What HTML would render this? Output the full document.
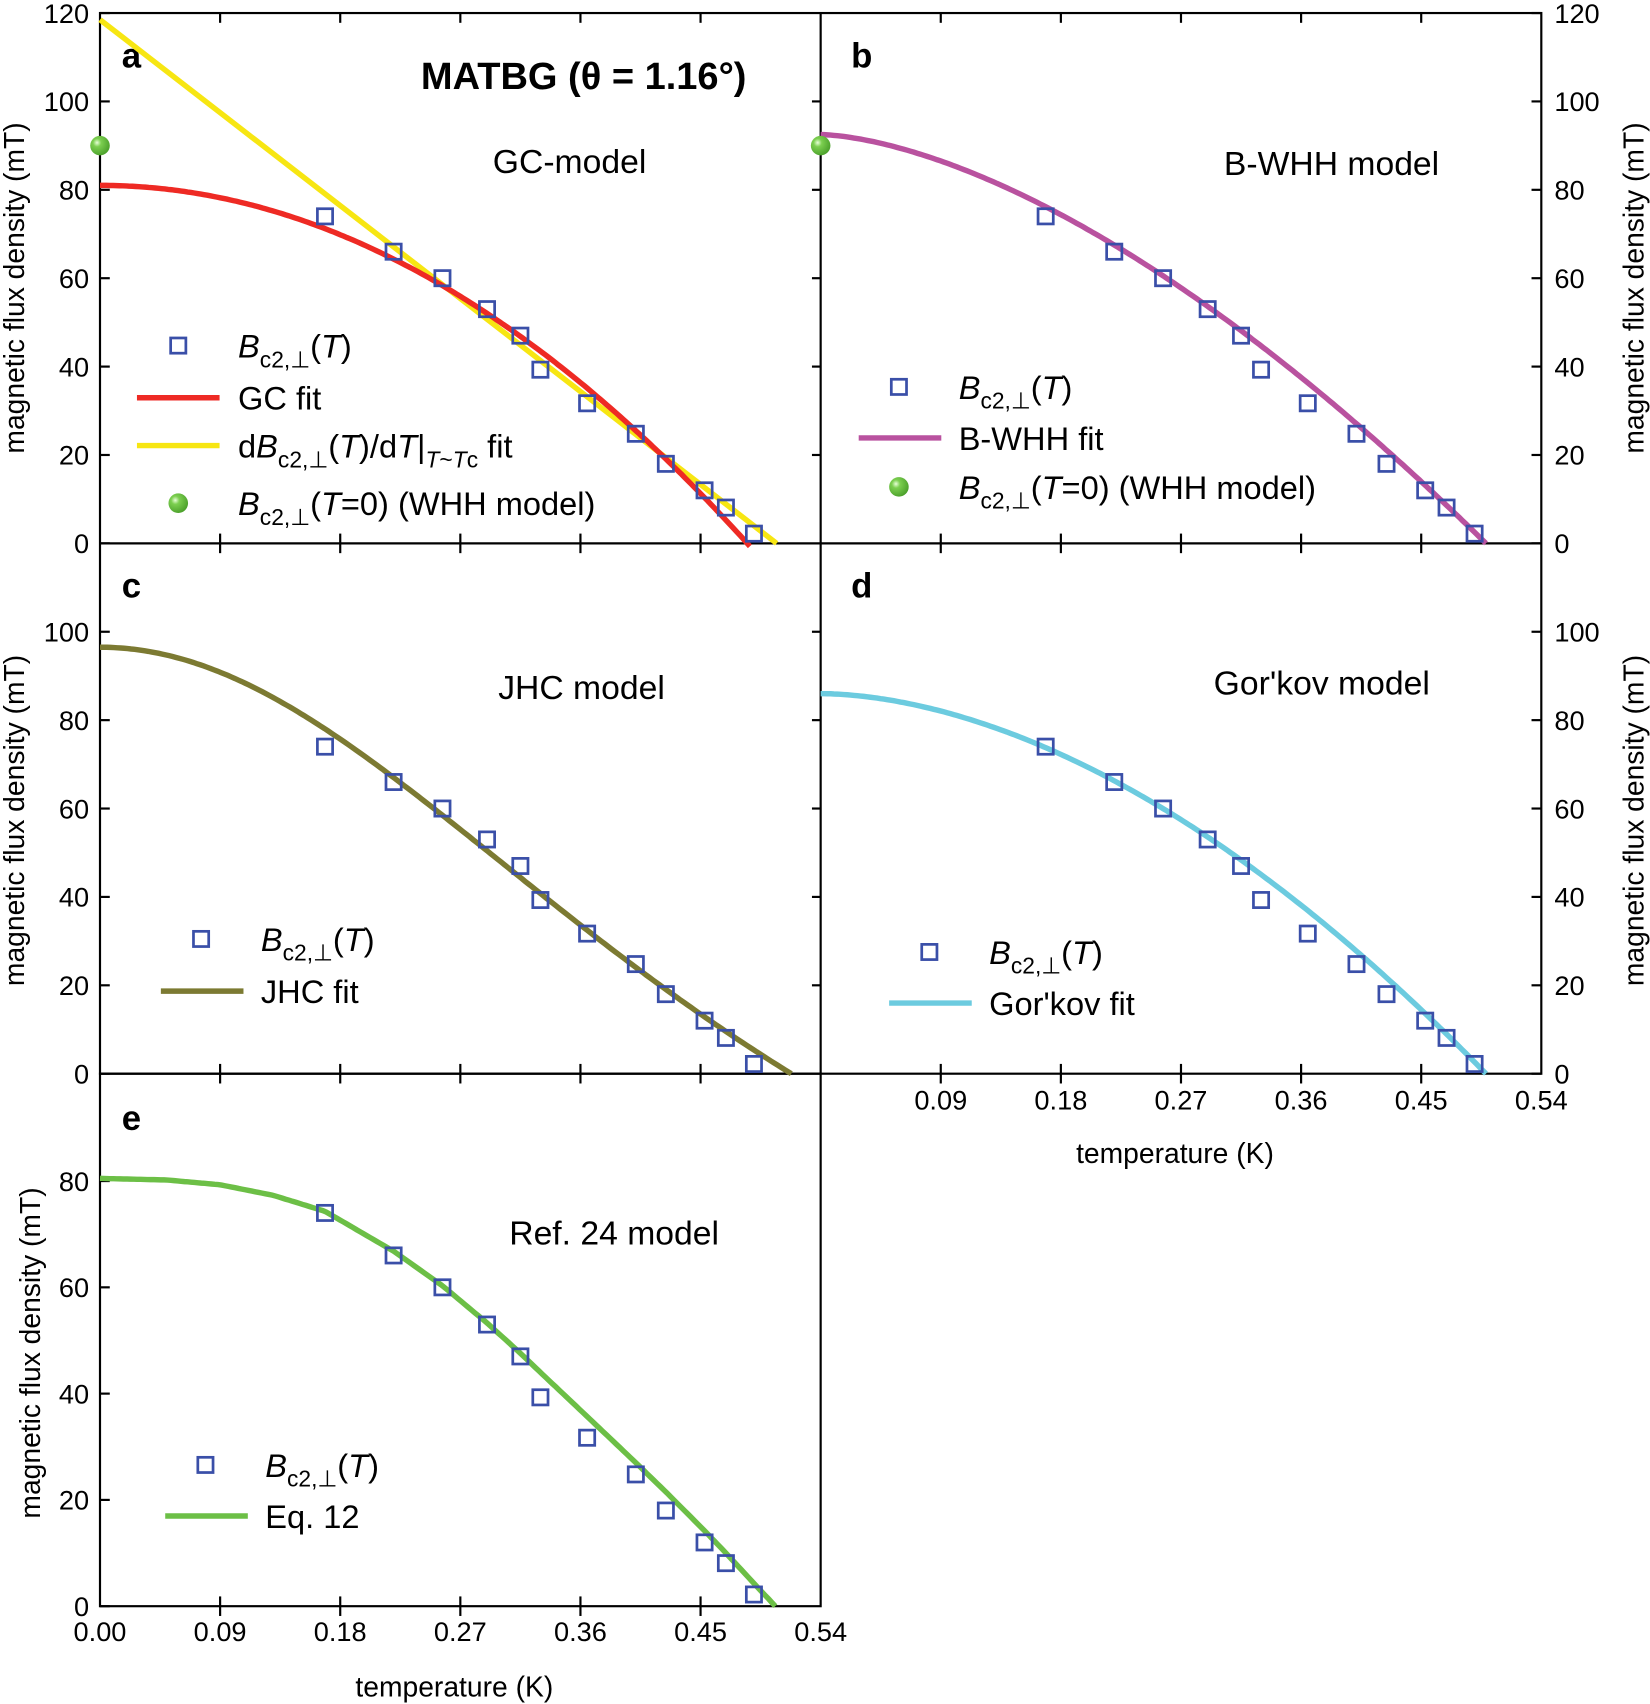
<!DOCTYPE html>
<html><head><meta charset="utf-8"><style>
html,body{margin:0;padding:0;background:#fff;}
svg{display:block;font-family:"Liberation Sans",Arial,sans-serif;}
</style></head><body>
<svg id="s" width="1650" height="1704" viewBox="0 0 1518 1568" preserveAspectRatio="none" xmlns="http://www.w3.org/2000/svg">
<defs>
<radialGradient id="g" cx="0.35" cy="0.35" r="0.7"><stop offset="0" stop-color="#e8ffd8"/><stop offset="0.3" stop-color="#7ccf50"/><stop offset="1" stop-color="#4a9f2a"/></radialGradient>
</defs>
<g id="root"></g>
</svg>
<script>
const root=document.getElementById('root');
let out="";
const X0=92,XS=1227.8;
function X(t,off){return X0+off+t*XS;}
function add(s){out+=s;}
function line(x1,y1,x2,y2,c,w){add(`<line x1="${x1}" y1="${y1}" x2="${x2}" y2="${y2}" stroke="${c||'#000'}" stroke-width="${w||2}"/>`);}
function text(x,y,s,sz,anchor,extra){add(`<text x="${x}" y="${y}" font-size="${sz}" text-anchor="${anchor||'start'}" ${extra||''}>${s}</text>`);}
const P={a:[0,12,500,120],b:[663,12,500,120],c:[0,500,988,120],d:[663,500,988,120],e:[0,988,1478,100.2]};
function Y(p,b){const q=P[p];return q[2]-b*(q[2]-q[1])/q[3];}
add(`<rect x="92" y="12" width="1326" height="976" fill="none" stroke="#000" stroke-width="2"/>`);
line(755,12,755,988);line(92,500,1418,500);
add(`<rect x="92" y="988" width="663" height="490" fill="none" stroke="#000" stroke-width="2"/>`);
const xt=[0.09,0.18,0.27,0.36,0.45];
for(const yb of [500,988,1478]){for(const t of xt){line(X(t,0),yb-9,X(t,0),yb+9);} }
for(const yb of [500,988]){for(const t of xt){line(X(t,663),yb-9,X(t,663),yb+9);} }
for(const t of xt){line(X(t,663),12,X(t,663),21);line(X(t,0),12,X(t,0),21);}
function yt(p,vals,side){for(const v of vals){const y=Y(p,v);
 if(side==='L'){line(92,y,101,y);text(82,y+9,v,25,'end');}
 else{line(1409,y,1418,y);text(1430,y+9,v,25,'start');}}}
yt('a',[0,20,40,60,80,100,120],'L');
yt('b',[0,20,40,60,80,100,120],'R');
yt('c',[0,20,40,60,80,100],'L');
yt('d',[0,20,40,60,80,100],'R');
yt('e',[0,20,40,60,80],'L');
for(const v of [20,40,60,80,100]){line(747,Y('b',v),755,Y('b',v));line(747,Y('d',v),755,Y('d',v));}
const xl=["0.09","0.18","0.27","0.36","0.45","0.54"];
["0.00"].concat(xl).forEach((s,i)=>{text(X(i*0.09,0),1510,s,25,'middle');});
xl.forEach((s,i)=>{text(X((i+1)*0.09,663),1021,s,25,'middle');});
text(418,1561,"temperature (K)",26,'middle');
text(1081,1070,"temperature (K)",26,'middle');
function ytitle(x,yc){add(`<text x="${x}" y="${yc}" font-size="26" text-anchor="middle" transform="rotate(-90 ${x} ${yc})">magnetic flux density (mT)</text>`);}
ytitle(22,265);ytitle(22,755);ytitle(37,1245);
ytitle(1512,265);ytitle(1512,755);
text(112,62,"a",32,'start','font-weight="bold"');
text(783,62,"b",32,'start','font-weight="bold"');
text(112,550,"c",32,'start','font-weight="bold"');
text(783,550,"d",32,'start','font-weight="bold"');
text(112,1040,"e",32,'start','font-weight="bold"');
text(537,82,"MATBG (θ = 1.16°)",35,'middle','font-weight="bold"');
text(524,159,"GC-model",31,'middle');
text(1225,161,"B-WHH model",31,'middle');
text(535,643,"JHC model",31,'middle');
text(1216,639,"Gor'kov model",31,'middle');
text(565,1145,"Ref. 24 model",31,'middle');
function curve(p,off,f,t1,color){let pts=[];for(let i=0;i<=200;i++){const t=t1*i/200;pts.push(X(t,off).toFixed(1)+","+Y(p,f(t)).toFixed(1));}
 add(`<polyline points="${pts.join(' ')}" fill="none" stroke="${color}" stroke-width="5"/>`);}
add(`<polyline points="${X(0,0)},${Y('a',118.5)} ${X(0.507,0)},${Y('a',0)}" stroke="#f7e612" stroke-width="5" fill="none"/>`);
curve('a',0,t=>81*(1-(t/0.485)**2),0.487,'#ee2a24');
curve('b',663,t=>92.5*(1-Math.pow(t/0.4985,1.6)),0.4985,'#b9529f');
curve('c',0,t=>{const u=t/0.518;return 96.5*(1-u*u)/(1+u*u);},0.518,'#7c7a32');
curve('d',663,t=>86*(1-Math.pow(t/0.4985,1.8)),0.4985,'#6ccbdf');
const ep=[[0,80.5],[0.05,80.2],[0.09,79.3],[0.13,77.3],[0.1686,74.3],[0.22,66.8],[0.2566,60.3],[0.29,53.3],[0.315,47.6],[0.33,44],[0.365,35.7],[0.4015,27],[0.424,21.5],[0.453,14.2],[0.469,10],[0.49,4.3],[0.506,0]];
function einterp(t){for(let i=0;i<ep.length-1;i++){if(t<=ep[i+1][0]){const a=ep[i],b=ep[i+1];return a[1]+(b[1]-a[1])*(t-a[0])/(b[0]-a[0]);}}return 0;}
curve('e',0,einterp,0.506,'#6cbf46');
const D=[[0.1686,74],[0.22,66],[0.2566,60],[0.29,53],[0.315,47],[0.33,39.3],[0.365,31.7],[0.4015,24.8],[0.424,18],[0.453,12],[0.469,8.1],[0.49,2.2]];
function sq(x,y){add(`<rect x="${x-7}" y="${y-7}" width="14" height="14" fill="none" stroke="#3a4fa8" stroke-width="2.5"/>`);}
for(const [p,off] of [['a',0],['b',663],['c',0],['d',663],['e',0]]){for(const d of D){sq(X(d[0],off),Y(p,d[1]));}}
function dot(x,y){add(`<circle cx="${x}" cy="${y}" r="9" fill="url(#g)"/>`);}
dot(92,Y('a',90));dot(755,Y('b',90));
const B=(tail)=>`<tspan font-style="italic">B</tspan><tspan font-size="21" dy="9">c2,⊥</tspan><tspan dy="-9">${tail}</tspan>`;
function legsq(x,y,lx,tail){sq(x,y);add(`<text x="${lx}" y="${y+11}" font-size="30">${B(tail)}</text>`);}
function legln(x1,x2,y,c,lx,s){line(x1,y,x2,y,c,5);add(`<text x="${lx}" y="${y+11}" font-size="30">${s}</text>`);}
const BT="(<tspan font-style='italic'>T</tspan>)";
legsq(164,318,219,BT);
legln(126,202,366,'#ee2a24',219,"GC fit");
line(126,410,202,410,'#f7e612',5);
add(`<text x="219" y="421" font-size="30">d<tspan font-style="italic">B</tspan><tspan font-size="21" dy="9">c2,⊥</tspan><tspan dy="-9">(<tspan font-style="italic">T</tspan>)/d<tspan font-style="italic">T</tspan>|</tspan><tspan font-size="21" dy="9"><tspan font-style="italic">T</tspan>~<tspan font-style="italic">T</tspan>c</tspan><tspan dy="-9"> fit</tspan></text>`);
dot(164,463);add(`<text x="219" y="474" font-size="30">${B("(<tspan font-style='italic'>T</tspan>=0) (WHH model)")}</text>`);
legsq(827,356,882,BT);
legln(790,866,403,'#b9529f',882,"B-WHH fit");
dot(827,448);add(`<text x="882" y="459" font-size="30">${B("(<tspan font-style='italic'>T</tspan>=0) (WHH model)")}</text>`);
legsq(185,864,240,BT);
legln(148,224,912,'#7c7a32',240,"JHC fit");
legsq(855,876,910,BT);
legln(818,894,923,'#6ccbdf',910,"Gor'kov fit");
legsq(189,1348,244,BT);
legln(152,228,1395,'#6cbf46',244,"Eq. 12");
root.innerHTML=out;
</script>
</body></html>
